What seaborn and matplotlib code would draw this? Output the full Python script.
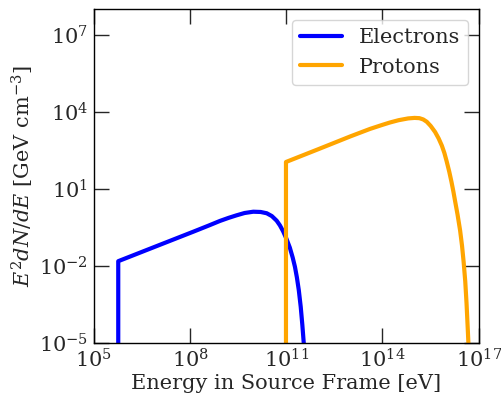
import numpy as np
import pandas as pd
import matplotlib
matplotlib.use("Agg")
import matplotlib.pyplot as plt
from matplotlib.ticker import NullLocator
import seaborn as sns

# log10 values
electron_logE = [5.76, 5.76, 7.0, 8.12, 8.6, 8.93, 9.2, 9.45, 9.7, 9.97, 10.2,
                 10.39, 10.55, 10.70, 10.80, 10.90, 11.0, 11.11, 11.2, 11.27,
                 11.33, 11.39, 11.45, 11.50, 11.55, 11.60]
electron_logF = [-6.0, -1.82, -1.21, -0.66, -0.42, -0.25, -0.13, -0.03, 0.06, 0.11, 0.10,
                 0.05, -0.06, -0.24, -0.42, -0.65, -0.93, -1.29, -1.68, -2.04,
                 -2.45, -2.95, -3.60, -4.30, -5.10, -6.0]

proton_logE = [10.99, 10.99, 12.0, 13.0, 13.61, 14.0, 14.23, 14.5, 14.8, 15.0,
               15.15, 15.27, 15.38, 15.5, 15.64, 15.75, 15.85, 15.93, 16.0, 16.08,
               16.15, 16.21, 16.26, 16.34, 16.42, 16.48, 16.53, 16.58, 16.62,
               16.66, 16.70]
proton_logF = [-6.0, 2.05, 2.55, 3.05, 3.34, 3.50, 3.59, 3.68, 3.75, 3.77,
               3.76, 3.71, 3.62, 3.46, 3.22, 2.97, 2.69, 2.40, 2.08, 1.68,
               1.28, 0.90, 0.55, 0.0, -0.62, -1.22, -1.85, -2.60, -3.45,
               -4.50, -5.60]

x_ticks = [1e5, 1e8, 1e11, 1e14, 1e17]
y_ticks = [1e-5, 1e-2, 1e1, 1e4, 1e7]

df = pd.concat([
    pd.DataFrame({"energy": 10.0 ** np.array(electron_logE),
                  "flux": 10.0 ** np.array(electron_logF),
                  "particle": "Electrons"}),
    pd.DataFrame({"energy": 10.0 ** np.array(proton_logE),
                  "flux": 10.0 ** np.array(proton_logF),
                  "particle": "Protons"}),
], ignore_index=True)

sns.set_style("ticks")
plt.rcParams["font.family"] = ["DejaVu Serif"]
plt.rcParams["mathtext.fontset"] = "dejavuserif"

fig, ax = plt.subplots(figsize=(5.02, 3.95), dpi=100)
fig.subplots_adjust(left=0.187, right=0.9536, bottom=0.1324, top=0.976)

sns.lineplot(data=df, x="energy", y="flux", hue="particle",
             palette={"Electrons": "blue", "Protons": "orange"},
             estimator=None, sort=False, lw=3, ax=ax)
for line in ax.get_lines():
    line.set_solid_joinstyle("round")

ax.set_xscale("log")
ax.set_yscale("log")
ax.set_xlim(1e5, 1e17)
ax.set_ylim(1e-5, 1e8)
ax.set_xticks(x_ticks)
ax.set_yticks(y_ticks)
ax.xaxis.set_minor_locator(NullLocator())
ax.yaxis.set_minor_locator(NullLocator())
ax.tick_params(direction="in", length=11, width=1, top=True, right=True,
               labelsize=15, pad=4)
for sp in ax.spines.values():
    sp.set_linewidth(1)
    sp.set_color("black")

ax.set_xlabel("Energy in Source Frame [eV]", fontsize=15, labelpad=2)
ax.set_ylabel(r"$E^2dN/dE$ [GeV cm$^{-3}$]", fontsize=15, labelpad=2)

handles, labels = ax.get_legend_handles_labels()
ax.legend(handles, labels, loc="upper right", fontsize=15, frameon=True)

fig.savefig("out.png", dpi=100)
